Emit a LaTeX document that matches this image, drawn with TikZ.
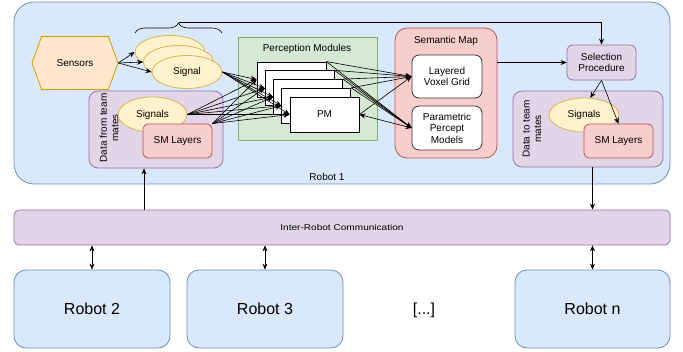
\documentclass[tikz,border=0pt]{standalone}
\usepackage{fontspec}
\setmainfont{Liberation Sans}
\newfontfamily\widesans[FakeStretch=1.2]{Liberation Sans}
\usetikzlibrary{arrows.meta,shapes.geometric,shapes.symbols,decorations.pathreplacing,calc}
\definecolor{bfill}{HTML}{DAE8FC}\definecolor{bdraw}{HTML}{6C8EBF}
\definecolor{ofill}{HTML}{FFE6CC}\definecolor{odraw}{HTML}{D79B00}
\definecolor{yfill}{HTML}{FFF2CC}\definecolor{ydraw}{HTML}{D6B656}
\definecolor{gfill}{HTML}{D5E8D4}\definecolor{gdraw}{HTML}{82B366}
\definecolor{rfill}{HTML}{F8CECC}\definecolor{rdraw}{HTML}{B85450}
\definecolor{pfill}{HTML}{E1D5E7}\definecolor{pdraw}{HTML}{9673A6}
\definecolor{gborder}{HTML}{333333}
\tikzset{
  every node/.style={font=\fontsize{10}{11.5}\selectfont, align=center, inner sep=0pt},
  bx/.style n args={2}{minimum width=#1, minimum height=#2},
  bluebox/.style={draw=bdraw, fill=bfill, line width=0.8pt},
  purplebox/.style={draw=pdraw, fill=pfill, line width=0.8pt},
  redbox/.style={draw=rdraw, fill=rfill, line width=0.8pt},
  greenbox/.style={draw=gdraw, fill=gfill, line width=0.8pt},
  yellipse/.style={ellipse, draw=ydraw, fill=yfill, line width=0.8pt},
  pmbox/.style={rectangle, draw=black, fill=white, line width=0.8pt, minimum width=69, minimum height=35},
  whitebox/.style={rectangle, draw=gborder, fill=white, line width=0.8pt, rounded corners=7pt},
  big/.style={font=\fontsize{16}{18}\selectfont},
  arr/.style={-{Stealth[length=6pt,width=5pt]}, line width=0.6pt, black},
  arrb/.style={{Stealth[length=6pt,width=5pt]}-{Stealth[length=6pt,width=5pt]}, line width=0.6pt, black},
  ln/.style={line width=0.6pt, black},
}
\begin{document}
\begin{tikzpicture}[x=1pt,y=-1pt]
\useasboundingbox (0,0) rectangle (683,351);
% Robot 1
\node[bluebox, rounded corners=20pt, bx={656}{182}] (r1) at (342,93) {};
\node (r1lab) at (327,177) {Robot 1};
% Sensors
\node[signal, signal to=east and west, signal pointer angle=140, draw=odraw, fill=ofill, line width=0.8pt, bx={86}{53}] (sens) at (75,63) {Sensors};
% Signal ellipses
\node[yellipse, bx={70}{33}] (sigb) at (170,52) {};
\node[yellipse, bx={70}{33}] (sigm) at (178.5,62) {};
\node[yellipse, bx={70}{33}] (sigf) at (187,72) {Signal};
% brace
\draw[ln, decorate, decoration={brace, amplitude=10pt}] (135,33) -- (222,33);
\coordinate (bt) at (178.5,22);
% Perception modules
\node[greenbox, bx={139}{103}] (pmod) at (307.5,88.5) {};
\node (pmodlab) at (307,49) {Perception Modules};
\foreach \i in {1,...,5} {
  \node[pmbox] (pm\i) at ({291.5+8.25*(\i-1)},{79.5+8.75*(\i-1)}) {};
}
\node at (pm5) {PM};
% Semantic map
\node[redbox, rounded corners=12pt, bx={102}{130}] (sem) at (446,93) {};
\node (semlab) at (446,41) {Semantic Map};
\node[whitebox, bx={70}{43}] (vox) at (447,76.5) {Layered\\Voxel Grid};
\node[whitebox, bx={70}{44}] (par) at (447,128) {Parametric\\Percept\\Models};
% Selection
\node[purplebox, rounded corners=6pt, bx={69}{35}] (sel) at (601.5,62.5) {Selection\\Procedure};
% Data to team mates
\node[purplebox, rounded corners=9pt, bx={150}{76}] (dto) at (588,129) {};
\node[rotate=90] (dtolab) at (532,129) {Data to team\\mates};
\node[yellipse, bx={70}{34}] (sig2) at (584,115) {Signals};
\node[redbox, rounded corners=5pt, bx={69}{34}] (sml2) at (618.5,141) {SM Layers};
% Data from team mates
\node[purplebox, rounded corners=9pt, bx={134}{77}] (dfr) at (156,129.5) {};
\node[rotate=90] (dfrlab) at (109,128) {Data from team\\mates};
\node[yellipse, bx={69}{35}] (sig1) at (152.5,114.5) {Signals};
\node[redbox, rounded corners=5pt, bx={69}{34}] (sml1) at (177.5,141) {SM Layers};
% Inter-robot
\node[purplebox, rounded corners=5pt, bx={656}{35}] (inter) at (342,227.5) {\widesans\fontsize{8.4}{10}\selectfont Inter-Robot Communication};
% Robots
\node[bluebox, rounded corners=12pt, bx={156}{78}, big] (r2) at (92,309) {Robot 2};
\node[bluebox, rounded corners=12pt, bx={156}{78}, big] (r3) at (265,309) {Robot 3};
\node[bluebox, rounded corners=12pt, bx={155}{78}, big] (rn) at (592.5,309) {Robot n};
\node[big] (dots) at (424,310) {[...]};
% connectors
\draw[arr] (sens.east) -- (sigb.west);
\draw[arr] (sens.east) -- (sigm.west);
\draw[arr] (sens.east) -- (sigf.west);
\foreach \i in {1,...,5} {
  \draw[arr] (sigf.east) -- (pm\i.west);
  \draw[arr] (sig1.east) -- (pm\i.west);
  \draw[arr] (sml1.north east) -- (pm\i.west);
}
\foreach \i in {1,...,4} {
  \draw[arr] (pm\i.north east) -- (vox.west);
  \draw[arr] (pm\i.north east) -- (par.west);
}
\draw[arr] (pm5.east) -- (vox.west);
\draw[arrb] (pm5.east) -- (par.west);
\draw[arr] (bt) -| (sel.north);
\draw[arr] (sem.east |- sel.west) -- (sel.west);
\draw[arr] (sel.south) -- (sig2.70);
\draw[arr] (sel.south) -- (sml2.north);
\draw[arr] (dto.south -| rn.north) -- (inter.north -| rn.north);
\coordinate (cx) at (144,0);
\draw[arr] (inter.north -| cx) -- (dfr.south -| cx);
\draw[arrb] (inter.south -| r2.north) -- (r2.north);
\draw[arrb] (inter.south -| r3.north) -- (r3.north);
\draw[arrb] (inter.south -| rn.north) -- (rn.north);
\end{tikzpicture}
\end{document}
